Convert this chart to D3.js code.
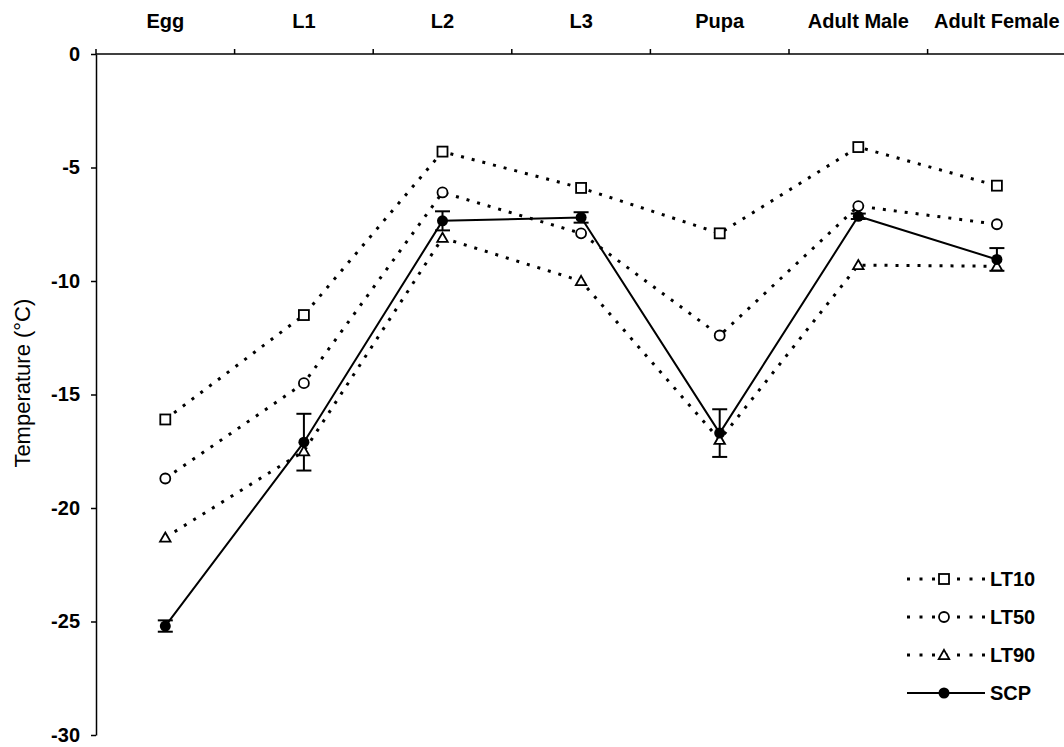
<!DOCTYPE html>
<html>
<head>
<meta charset="utf-8">
<title>Cold tolerance by life stage</title>
<style>
  body { margin: 0; background: #fff; }
  svg { display: block; font-family: "Liberation Sans", Arial, sans-serif; }
  .lbl { font-weight: bold; font-size: 20px; fill: #000; }
</style>
</head>
<body>
<script src="https://cdn.jsdelivr.net/npm/d3@7"></script>
<script>
// data
const stages = ["Egg", "L1", "L2", "L3", "Pupa", "Adult Male", "Adult Female"];
const lt10 = [-16.1, -11.5, -4.3, -5.9, -7.9, -4.1, -5.8];
const lt50 = [-18.7, -14.5, -6.1, -7.9, -12.4, -6.7, -7.5];
const lt90 = [-21.3, -17.5, -8.1, -10.0, -17.0, -9.3, -9.35];
const scp = [-25.2, -17.1, -7.35, -7.2, -16.7, -7.15, -9.05];
const scpErr = [0.25, 1.25, 0.42, 0.23, 1.05, 0.12, 0.5];
const yTicks = [0, -5, -10, -15, -20, -25, -30];

const W = 1064, H = 747;
const margin = { top: 54, left: 96, bottom: 12 };

const svg = d3.select("body").append("svg")
  .attr("width", W)
  .attr("height", H);

const x = d3.scaleBand().domain(stages).range([margin.left, margin.left + 7 * 138.6]);
const y = d3.scaleLinear().domain([0, -30]).range([margin.top, 735]);
const cx = d => x(d) + x.bandwidth() / 2;

// left axis (plain hyphen minus, like the original)
const yAxis = svg.append("g")
  .attr("transform", `translate(${margin.left},0)`)
  .call(d3.axisLeft(y).tickValues(yTicks).tickFormat(d => String(d))
    .tickSize(5).tickSizeOuter(0).tickPadding(11));
yAxis.selectAll("text").attr("class", "lbl").attr("font-family", null).attr("font-size", null);
yAxis.selectAll("line, path").attr("stroke", "#000").attr("stroke-width", 1.5);

// top axis: labels centred in each band, ticks at the band edges
const xAxis = svg.append("g")
  .attr("transform", `translate(0,${margin.top})`)
  .call(d3.axisTop(x).tickSize(0).tickSizeOuter(0).tickPadding(26));
xAxis.select("path").remove();
xAxis.selectAll("text").attr("class", "lbl").attr("font-family", null).attr("font-size", null);
svg.append("line")
  .attr("x1", margin.left).attr("x2", W)
  .attr("y1", margin.top).attr("y2", margin.top)
  .attr("stroke", "#000").attr("stroke-width", 1.5);
svg.selectAll(".edge")
  .data(stages)
  .enter().append("line")
  .attr("class", "edge")
  .attr("x1", d => x(d)).attr("x2", d => x(d))
  .attr("y1", margin.top - 5).attr("y2", margin.top)
  .attr("stroke", "#000").attr("stroke-width", 1.5);

// axis title
svg.append("text")
  .attr("transform", `translate(30,${y(-14.5)}) rotate(-90)`)
  .attr("text-anchor", "middle")
  .attr("font-size", 22)
  .text("Temperature (°C)");

const line = d3.line().x((d, i) => cx(stages[i])).y(d => y(d));

function marker(g, shape, px, py) {
  if (shape === "square") {
    g.append("rect").attr("x", px - 5).attr("y", py - 5).attr("width", 10).attr("height", 10)
      .attr("fill", "#fff").attr("stroke", "#000").attr("stroke-width", 1.8);
  } else if (shape === "circle") {
    g.append("circle").attr("cx", px).attr("cy", py).attr("r", 5)
      .attr("fill", "#fff").attr("stroke", "#000").attr("stroke-width", 1.8);
  } else if (shape === "triangle") {
    g.append("path").attr("d", d3.symbol(d3.symbolTriangle, 48)()).attr("transform", `translate(${px},${py + 1})`)
      .attr("fill", "#fff").attr("stroke", "#000").attr("stroke-width", 1.8);
  } else {
    g.append("circle").attr("cx", px).attr("cy", py).attr("r", 5.5).attr("fill", "#000");
  }
}

const series = [
  { name: "LT10", values: lt10, shape: "square" },
  { name: "LT50", values: lt50, shape: "circle" },
  { name: "LT90", values: lt90, shape: "triangle" }
];

// dotted LT lines
series.forEach(s => {
  svg.append("path")
    .attr("d", line(s.values))
    .attr("fill", "none").attr("stroke", "#000")
    .attr("stroke-width", 3).attr("stroke-dasharray", "3,8");
});

// SCP line with error bars
svg.append("path")
  .attr("d", line(scp))
  .attr("fill", "none").attr("stroke", "#000").attr("stroke-width", 2);

const eb = svg.append("g").attr("stroke", "#000").attr("stroke-width", 2);
scp.forEach((v, i) => {
  const px = cx(stages[i]);
  const y1 = y(v + scpErr[i]), y2 = y(v - scpErr[i]);
  eb.append("line").attr("x1", px).attr("x2", px).attr("y1", y1).attr("y2", y2);
  eb.append("line").attr("x1", px - 7.5).attr("x2", px + 7.5).attr("y1", y1).attr("y2", y1);
  eb.append("line").attr("x1", px - 7.5).attr("x2", px + 7.5).attr("y1", y2).attr("y2", y2);
});

// markers
const mk = svg.append("g");
series.forEach(s => s.values.forEach((v, i) => marker(mk, s.shape, cx(stages[i]), y(v))));
scp.forEach((v, i) => marker(mk, "dot", cx(stages[i]), y(v)));

// legend
const legendItems = series.concat([{ name: "SCP", shape: "dot" }]);
const lg = svg.append("g").attr("transform", "translate(907,579)");
legendItems.forEach((s, i) => {
  const g = lg.append("g").attr("transform", `translate(0,${i * 38})`);
  g.append("line").attr("x1", 0).attr("x2", 78).attr("y1", 0).attr("y2", 0)
    .attr("stroke", "#000")
    .attr("stroke-width", s.shape === "dot" ? 2 : 3)
    .attr("stroke-dasharray", s.shape === "dot" ? null : "3,9.5");
  marker(g, s.shape, 37, 0);
  g.append("text").attr("class", "lbl").attr("x", 83).attr("y", 0).attr("dy", "0.35em").text(s.name);
});
</script>
</body>
</html>
